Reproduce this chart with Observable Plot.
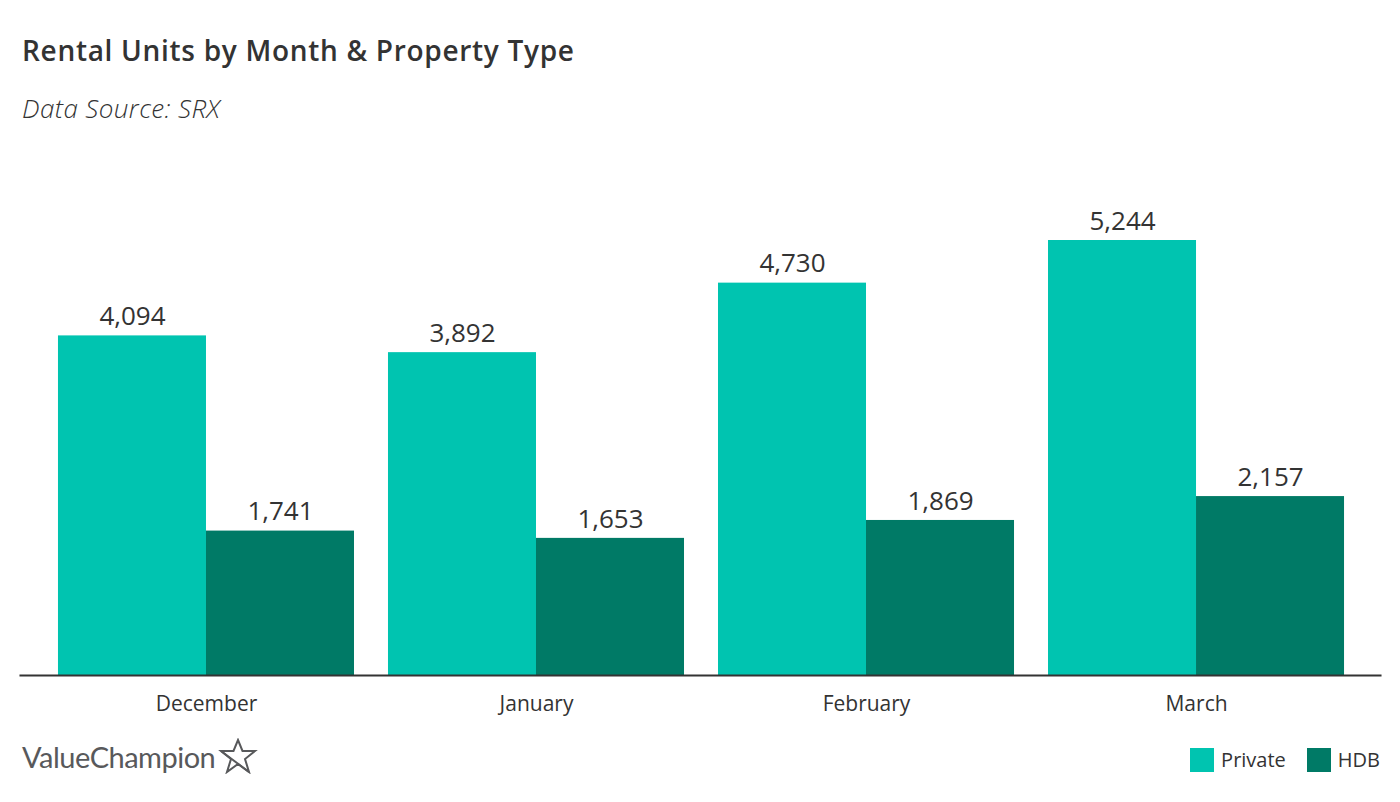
<!DOCTYPE html>
<html>
<head>
<meta charset="utf-8">
<script src="https://cdn.jsdelivr.net/npm/d3@7"></script>
<script src="https://cdn.jsdelivr.net/npm/@observablehq/plot@0.6"></script>
<style>
  html, body { margin: 0; padding: 0; background: #fff; }
  body { width: 1400px; height: 802px; position: relative; overflow: hidden; font-family: "Open Sans", Lato, sans-serif; color: #333; }
  #title { position: absolute; left: 22px; top: 31px; font-size: 28px; font-weight: 600; color: #333; letter-spacing: 0.7px; }
  #subtitle { position: absolute; left: 22px; top: 90px; font-size: 26px; font-style: italic; font-weight: 300; color: #333; letter-spacing: 0.4px; }
  #chart { position: absolute; left: 0; top: 150px; }
  #logo { position: absolute; left: 22px; top: 738px; font-size: 29px; color: #58595b; display: flex; align-items: center; letter-spacing: -0.5px; font-family: Lato, sans-serif; }
  #legend { position: absolute; right: 20px; top: 746px; display: flex; align-items: center; font-size: 20px; color: #333; }
  .sw { width: 24px; height: 24px; display: inline-block; margin-right: 7px; }
  .item { display: flex; align-items: center; margin-left: 21px; }
</style>
</head>
<body>
<div id="title">Rental Units by Month &amp; Property Type</div>
<div id="subtitle">Data Source: SRX</div>
<div id="chart"></div>
<div id="logo">ValueChampion<svg width="40" height="36" viewBox="0 0 40 36" style="margin-left:3px"><path d="M20 2 L24.5 13 L37 13 L27 21 L31 34 L20 26 L9 34 L13 21 L3 13 L15.5 13 Z" fill="none" stroke="#58595b" stroke-width="2" stroke-linejoin="miter"/><path d="M3 13 L31 34" fill="none" stroke="#58595b" stroke-width="2"/></svg></div>
<div id="legend"></div>
<script>
const months = ["December", "January", "February", "March"];
const types = ["Private", "HDB"];
const privateUnits = [4094, 3892, 4730, 5244];
const hdbUnits = [1741, 1653, 1869, 2157];
const colors = ["#00c4b0", "#007a66"];

const data = [];
months.forEach((m, i) => {
  data.push({month: m, type: "Private", value: privateUnits[i]});
  data.push({month: m, type: "HDB", value: hdbUnits[i]});
});

const fmt = d3.format(",");

const chart = Plot.plot({
  width: 1400,
  height: 580,
  marginLeft: 22,
  marginRight: 20,
  marginTop: 90,
  marginBottom: 55,
  style: {fontFamily: "'Open Sans', Lato, sans-serif", color: "#333", background: "transparent"},
  fx: {domain: months, paddingInner: 0.103, paddingOuter: 0.109, round: false, label: null},
  x: {domain: types, padding: 0, round: false, axis: null},
  y: {domain: [0, d3.max(privateUnits)], axis: null},
  color: {domain: types, range: colors},
  marks: [
    Plot.barY(data, {fx: "month", x: "type", y: "value", fill: "type"}),
    Plot.text(data, {fx: "month", x: "type", y: "value", text: d => fmt(d.value), dy: -19, fontSize: 26, fill: "#333"}),
    Plot.frame({anchor: "bottom", facet: "super", stroke: "#333", strokeWidth: 2, insetLeft: -38, insetRight: -36}),
    Plot.axisFx({anchor: "bottom", tickSize: 0, tickPadding: 21, fontSize: 21, label: null, fill: "#333"})
  ]
});
document.getElementById("chart").appendChild(chart);

const legend = document.getElementById("legend");
types.forEach((t, i) => {
  const item = document.createElement("div");
  item.className = "item";
  const sw = document.createElement("span");
  sw.className = "sw";
  sw.style.background = colors[i];
  item.appendChild(sw);
  item.appendChild(document.createTextNode(t));
  legend.appendChild(item);
});
</script>
</body>
</html>
